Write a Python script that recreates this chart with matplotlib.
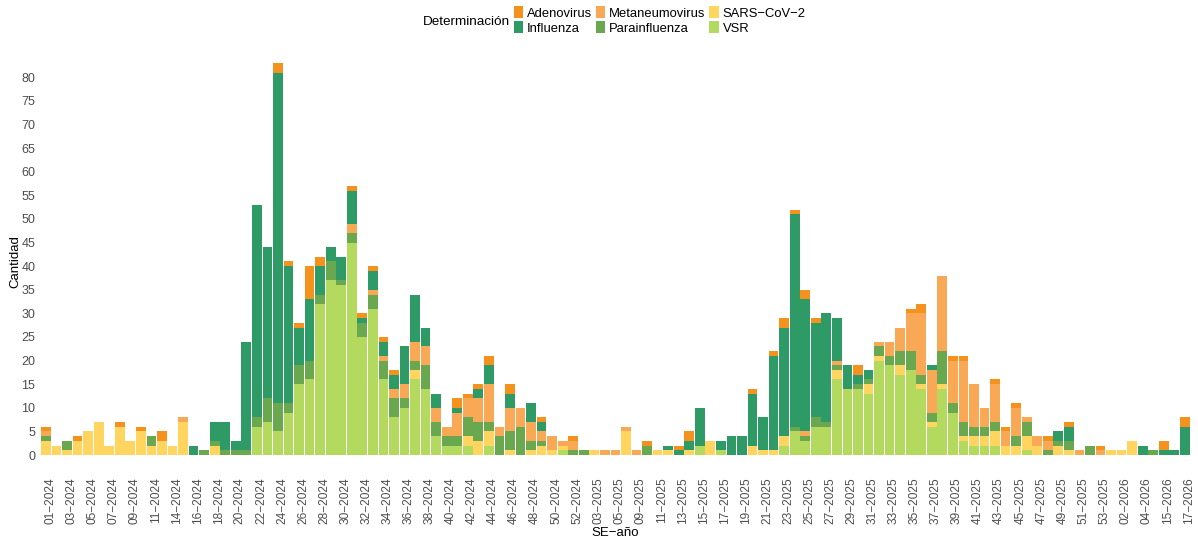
import numpy as np
import matplotlib.pyplot as plt
from matplotlib.patches import Patch
from matplotlib.transforms import ScaledTranslation

plt.rcParams['font.family'] = ['Liberation Sans', 'DejaVu Sans']

# --- DATA (epidemiological week - year) ---
weeks = [
    "01-2024", "02-2024", "03-2024", "04-2024", "05-2024", "06-2024", "07-2024", "08-2024",
    "09-2024", "10-2024", "11-2024", "13-2024", "14-2024", "15-2024", "16-2024", "17-2024",
    "18-2024", "19-2024", "20-2024", "21-2024", "22-2024", "23-2024", "24-2024", "25-2024",
    "26-2024", "27-2024", "28-2024", "29-2024", "30-2024", "31-2024", "32-2024", "33-2024",
    "34-2024", "35-2024", "36-2024", "37-2024", "38-2024", "39-2024", "40-2024", "41-2024",
    "42-2024", "43-2024", "44-2024", "45-2024", "46-2024", "47-2024", "48-2024", "49-2024",
    "50-2024", "51-2024", "52-2024", "01-2025", "03-2025", "04-2025", "05-2025", "06-2025",
    "09-2025", "10-2025", "11-2025", "12-2025", "13-2025", "14-2025", "15-2025", "16-2025",
    "17-2025", "18-2025", "19-2025", "20-2025", "21-2025", "22-2025", "23-2025", "24-2025",
    "25-2025", "26-2025", "27-2025", "28-2025", "29-2025", "30-2025", "31-2025", "32-2025",
    "33-2025", "34-2025", "35-2025", "36-2025", "37-2025", "38-2025", "39-2025", "40-2025",
    "41-2025", "42-2025", "43-2025", "44-2025", "45-2025", "46-2025", "47-2025", "48-2025",
    "49-2025", "50-2025", "51-2025", "52-2025", "53-2025", "01-2026", "02-2026", "03-2026",
    "04-2026", "14-2026", "15-2026", "16-2026", "17-2026",
]

vsr = [0, 0, 0, 0, 0, 0, 0, 0, 0, 0, 0, 0, 0, 0, 0, 0,
       0, 0, 0, 0, 6, 7, 5, 9, 15, 16, 32, 37, 36, 45, 25, 31,
       16, 8, 10, 16, 14, 4, 2, 2, 2, 0, 2, 0, 0, 0, 0, 0,
       0, 1, 0, 0, 0, 0, 0, 0, 0, 0, 0, 0, 0, 0, 2, 0,
       1, 0, 0, 0, 0, 0, 2, 5, 3, 6, 6, 16, 14, 14, 13, 20,
       19, 17, 18, 14, 6, 14, 9, 3, 2, 2, 2, 0, 0, 1, 0, 0,
       0, 0, 0, 0, 0, 0, 0, 0, 0, 0, 0, 0, 0]
sars = [3, 2, 1, 3, 5, 7, 2, 6, 3, 5, 2, 3, 2, 7, 0, 0,
        2, 0, 0, 0, 0, 0, 0, 0, 0, 0, 0, 0, 0, 0, 0, 0,
        0, 0, 0, 2, 0, 0, 0, 0, 2, 3, 3, 0, 1, 0, 1, 2,
        1, 1, 0, 0, 1, 0, 0, 5, 0, 0, 1, 1, 0, 1, 0, 3,
        0, 0, 0, 2, 1, 1, 2, 0, 0, 0, 0, 2, 0, 0, 2, 1,
        0, 2, 0, 1, 1, 1, 0, 1, 2, 2, 3, 2, 2, 3, 2, 0,
        2, 1, 0, 0, 0, 1, 1, 3, 0, 0, 0, 0, 0]
parainfluenza = [1, 0, 2, 0, 0, 0, 0, 0, 0, 0, 2, 0, 0, 0, 0, 1,
                 1, 1, 1, 1, 2, 5, 6, 2, 4, 4, 2, 4, 1, 2, 3, 3,
                 4, 4, 2, 2, 5, 3, 2, 2, 4, 4, 2, 4, 4, 6, 2, 1,
                 0, 0, 1, 1, 0, 0, 0, 0, 0, 2, 0, 0, 0, 0, 0, 0,
                 0, 0, 0, 0, 0, 0, 0, 1, 1, 2, 1, 1, 0, 1, 1, 2,
                 2, 3, 4, 2, 2, 7, 2, 3, 2, 2, 2, 0, 2, 3, 0, 1,
                 1, 2, 0, 2, 0, 0, 0, 0, 0, 1, 0, 0, 0]
metaneumovirus = [1, 0, 0, 0, 0, 0, 0, 0, 0, 0, 0, 0, 0, 1, 0, 0,
                  0, 0, 0, 0, 0, 0, 0, 0, 0, 0, 0, 0, 0, 2, 0, 1,
                  1, 2, 3, 4, 4, 3, 2, 5, 4, 5, 8, 2, 5, 4, 4, 2,
                  3, 1, 2, 0, 0, 1, 1, 1, 1, 0, 0, 0, 0, 0, 0, 0,
                  0, 0, 0, 0, 0, 0, 0, 0, 1, 0, 0, 1, 0, 0, 0, 1,
                  3, 5, 8, 13, 9, 16, 9, 13, 9, 4, 8, 3, 6, 1, 2, 2,
                  0, 0, 1, 0, 1, 0, 0, 0, 0, 0, 0, 0, 0]
influenza = [0, 0, 0, 0, 0, 0, 0, 0, 0, 0, 0, 0, 0, 0, 2, 0,
             4, 6, 2, 23, 45, 32, 70, 29, 8, 13, 6, 3, 5, 7, 1, 4,
             3, 3, 8, 10, 4, 3, 0, 1, 0, 2, 4, 0, 3, 0, 4, 2,
             0, 0, 0, 0, 0, 0, 0, 0, 0, 0, 0, 1, 1, 2, 8, 0,
             2, 4, 4, 11, 7, 20, 23, 45, 28, 20, 23, 9, 5, 2, 2, 0,
             0, 0, 0, 0, 1, 0, 0, 0, 0, 0, 0, 0, 0, 0, 0, 0,
             2, 3, 0, 0, 0, 0, 0, 0, 2, 0, 1, 1, 6]
adenovirus = [1, 0, 0, 1, 0, 0, 0, 1, 0, 1, 0, 2, 0, 0, 0, 0,
              0, 0, 0, 0, 0, 0, 2, 1, 1, 7, 2, 0, 0, 1, 1, 1,
              1, 1, 0, 0, 0, 0, 0, 2, 1, 1, 2, 0, 2, 0, 0, 1,
              0, 0, 1, 0, 0, 0, 0, 0, 0, 1, 0, 0, 1, 2, 0, 0,
              0, 0, 0, 1, 0, 1, 2, 1, 2, 1, 0, 0, 0, 2, 0, 0,
              0, 0, 1, 2, 0, 0, 1, 1, 0, 0, 1, 1, 1, 0, 0, 1,
              0, 1, 0, 0, 1, 0, 0, 0, 0, 0, 2, 0, 2]

# stacking order bottom -> top
stack_names = ["VSR", "SARS-CoV-2", "Parainfluenza", "Metaneumovirus", "Influenza", "Adenovirus"]
stack_values = [vsr, sars, parainfluenza, metaneumovirus, influenza, adenovirus]
colors = {
    "Adenovirus": "#F5921E",
    "Influenza": "#2E9A66",
    "Metaneumovirus": "#F9A855",
    "Parainfluenza": "#69A84F",
    "SARS-CoV-2": "#FFD55F",
    "VSR": "#B3D95F",
}
legend_order = ["Adenovirus", "Influenza", "Metaneumovirus", "Parainfluenza", "SARS-CoV-2", "VSR"]

W, H = 1198, 538
fig = plt.figure(figsize=(W / 100, H / 100), dpi=100)
ax = fig.add_axes([39.6 / W, 1 - 474.6 / H, (1191.2 - 39.6) / W, (474.6 - 43.6) / H])

x = np.arange(len(weeks))
bottom = np.zeros(len(weeks))
for name, vals in zip(stack_names, stack_values):
    vals = np.array(vals, dtype=float)
    ax.bar(x, vals, bottom=bottom, width=0.92, color=colors[name], linewidth=0)
    bottom += vals

top = bottom.max()
ax.set_xlim(-0.6, len(weeks) - 0.4)
ax.set_ylim(-0.05 * top, top * 1.05)
for s in ax.spines.values():
    s.set_visible(False)

ax.set_yticks(range(0, 81, 5))
ax.set_xticks(x[::2])
ax.set_xticklabels([w.replace("-", "\u2212") for w in weeks[::2]], rotation=90, va="top", ha="center")
ax.tick_params(axis="both", length=0, labelsize=9, colors="#4D4D4D")
ax.tick_params(axis="x", labelsize=8.6, pad=2)
ax.tick_params(axis="y", pad=3)
for lab in ax.get_xticklabels():
    lab.set_transform(lab.get_transform() + ScaledTranslation(3 / 72, 0, fig.dpi_scale_trans))

fig.text(15 / W, 1 - 262 / H, "Cantidad", rotation=90, ha="center", va="center", fontsize=9.5)
fig.text(615 / W, 1 - 533 / H, "SE\u2212año", ha="center", va="center", fontsize=9.5)

handles = [Patch(facecolor=colors[n], edgecolor="none") for n in legend_order]
fig.legend(handles, [n.replace("-", "\u2212") for n in legend_order], loc="upper left",
           bbox_to_anchor=(514 / W, 1 - 6 / H), ncol=3, frameon=False, fontsize=9.4,
           handlelength=0.7, handleheight=1.05, handletextpad=0.3, columnspacing=0.3,
           labelspacing=0.12, borderpad=0, borderaxespad=0)
fig.text(510 / W, 1 - 22 / H, "Determinación", ha="right", va="center", fontsize=9.7)

fig.savefig("out.png", dpi=100)
